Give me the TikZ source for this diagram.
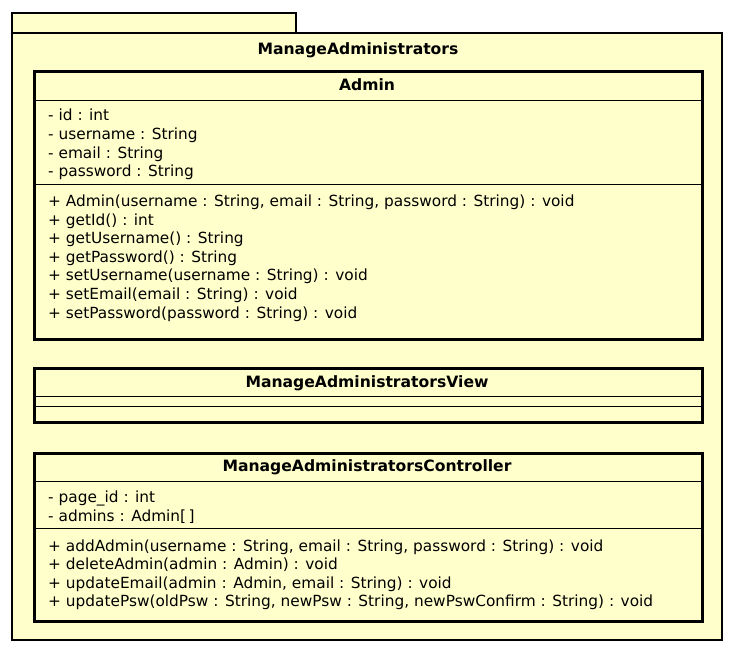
\documentclass[tikz,border=0pt]{standalone}
\usepackage{fontspec}
\setmainfont{DejaVu Sans}
\usetikzlibrary{positioning}
\definecolor{umlfill}{HTML}{FFFFCC}

\begin{document}
\begin{tikzpicture}[x=1pt, y=-1pt,
    pkg/.style={draw=black, line width=2.2pt, fill=umlfill},
    classbox/.style={draw=black, line width=2.6pt, fill=umlfill, anchor=north west, minimum width=668pt, inner sep=0pt},
    sep/.style={draw=black, line width=0.8pt},
    ctitle/.style={font=\fontsize{15.6}{17}\selectfont\bfseries, inner sep=0pt},
    member/.style={font=\fontsize{15.35}{18}\selectfont, anchor=base west, inner sep=0pt}]
  \useasboundingbox (0,0) rectangle (734,653);
  % package
  \draw[pkg] (12,13) rectangle (296,33);
  \draw[pkg] (12,33) rectangle (722,640);
  \node[ctitle] (pkgname) at (358,50) {ManageAdministrators};
  % Admin
  \node[classbox, minimum height=268pt] (admin) at (33,70) {};
  \node[ctitle] (adminname) at (367,85) {Admin};
  \draw[sep] (admin.west |- 0,100) -- (admin.east |- 0,100);
  \foreach \txt [count=\i] in {{- id : int}, {- username : String}, {- email : String}, {- password : String}}
    \node[member] (adminattr\i) at (48,120.7+18.65*\i-18.65) {\txt};
  \draw[sep] (admin.west |- 0,184) -- (admin.east |- 0,184);
  \foreach \txt [count=\i] in {{+ Admin(username : String, email : String, password : String) : void},
      {+ getId() : int}, {+ getUsername() : String}, {+ getPassword() : String},
      {+ setUsername(username : String) : void}, {+ setEmail(email : String) : void},
      {+ setPassword(password : String) : void}}
    \node[member] (adminop\i) at (48,206.7+18.55*\i-18.55) {\txt};
  % view
  \node[classbox, minimum height=54pt] (view) at (33,367) {};
  \node[ctitle] (viewname) at (367,383) {ManageAdministratorsView};
  \draw[sep] (view.west |- 0,396) -- (view.east |- 0,396);
  \draw[sep] (view.west |- 0,406) -- (view.east |- 0,406);
  % controller
  \node[classbox, minimum height=168pt] (ctrl) at (33,452) {};
  \node[ctitle] (ctrlname) at (367,467) {ManageAdministratorsController};
  \draw[sep] (ctrl.west |- 0,481) -- (ctrl.east |- 0,481);
  \foreach \txt [count=\i] in {{- page\_id : int}, {- admins : Admin[\,]}}
    \node[member] (ctrlattr\i) at (48,502.7+18.5*\i-18.5) {\txt};
  \draw[sep] (ctrl.west |- 0,528) -- (ctrl.east |- 0,528);
  \foreach \txt [count=\i] in {{+ addAdmin(username : String, email : String, password : String) : void},
      {+ deleteAdmin(admin : Admin) : void}, {+ updateEmail(admin : Admin, email : String) : void},
      {+ updatePsw(oldPsw : String, newPsw : String, newPswConfirm : String) : void}}
    \node[member] (ctrlop\i) at (48,551+18.56*\i-18.56) {\txt};
\end{tikzpicture}
\end{document}
